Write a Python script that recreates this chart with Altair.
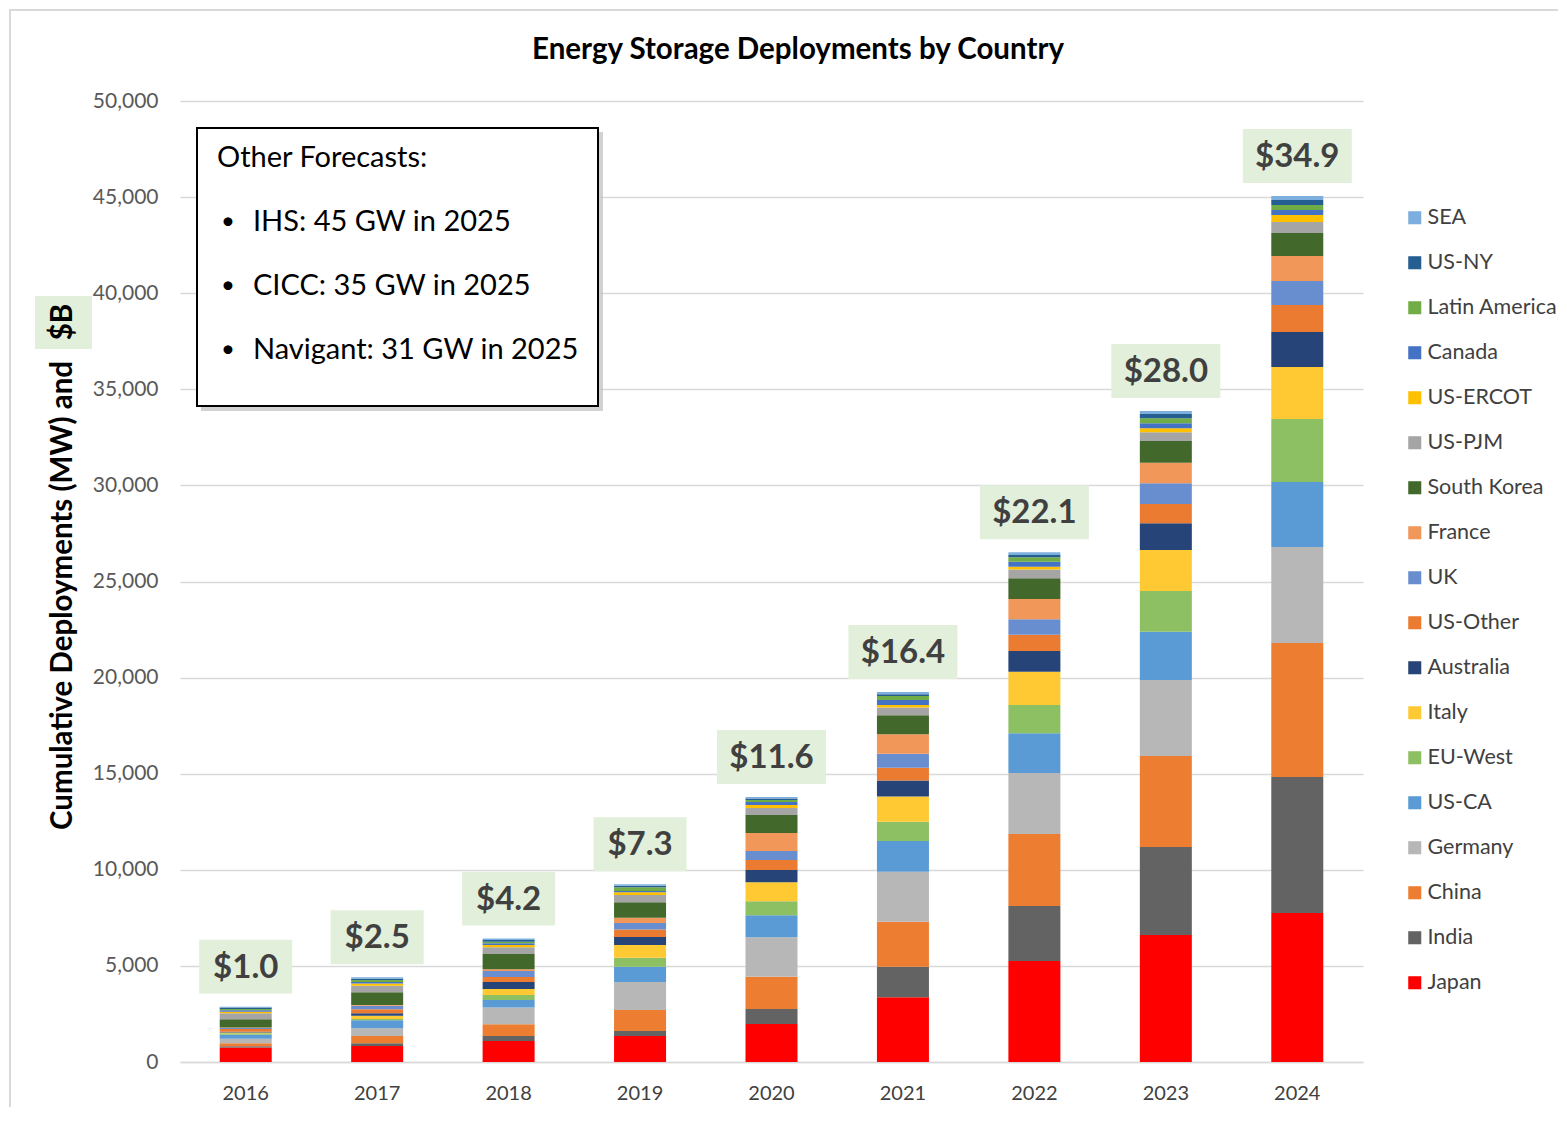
import altair as alt
import pandas as pd

years = ["2016", "2017", "2018", "2019", "2020", "2021", "2022", "2023", "2024"]

# stack order, bottom to top
series = ["Japan", "India", "China", "Germany", "US-CA", "EU-West", "Italy", "Australia",
          "US-Other", "UK", "France", "South Korea", "US-PJM", "US-ERCOT", "Canada",
          "Latin America", "US-NY", "SEA"]

japan = [760, 830, 1090, 1350, 1980, 3370, 5260, 6610, 7750]
india = [60, 140, 260, 260, 780, 1590, 2860, 4580, 7080]
china = [150, 380, 610, 1100, 1680, 2340, 3740, 4730, 6970]
germany = [240, 400, 870, 1450, 2050, 2600, 3180, 3960, 5000]
us_ca = [210, 420, 400, 800, 1140, 1600, 2060, 2510, 3380]
eu_west = [70, 70, 260, 470, 730, 1000, 1470, 2120, 3270]
italy = [50, 170, 310, 660, 990, 1320, 1740, 2130, 2710]
australia = [30, 120, 360, 410, 640, 820, 1070, 1390, 1820]
us_other = [150, 210, 260, 400, 520, 670, 850, 1000, 1410]
uk = [50, 190, 310, 330, 470, 730, 800, 1080, 1240]
france = [30, 30, 90, 280, 930, 1010, 1060, 1070, 1310]
south_korea = [420, 670, 800, 800, 940, 990, 1080, 1130, 1190]
us_pjm = [310, 340, 350, 380, 370, 410, 460, 450, 570]
us_ercot = [90, 120, 120, 140, 150, 120, 140, 210, 370]
canada = [70, 70, 90, 70, 160, 260, 260, 260, 260]
latin_america = [70, 110, 80, 190, 100, 210, 230, 260, 260]
us_ny = [70, 60, 90, 80, 80, 90, 120, 220, 260]
sea = [50, 80, 70, 80, 80, 120, 140, 160, 210]

values = [japan, india, china, germany, us_ca, eu_west, italy, australia, us_other, uk,
          france, south_korea, us_pjm, us_ercot, canada, latin_america, us_ny, sea]

colors = ["#FF0000", "#636363", "#ED7D31", "#B7B7B7", "#5B9BD5", "#8DBF63", "#FFC934",
          "#264478", "#EB7B30", "#698ED0", "#F1975A", "#43682B", "#A5A5A5", "#FFC000",
          "#4472C4", "#70AD47", "#255E91", "#7CAFDD"]

dollar_labels = ["$1.0", "$2.5", "$4.2", "$7.3", "$11.6", "$16.4", "$22.1", "$28.0", "$34.9"]

title_text = "Energy Storage Deployments by Country"
y_title = "Cumulative Deployments (MW) and"
y_title_tail = "$B"
forecast_head = "Other Forecasts:"
forecast_lines = ["IHS: 45 GW in 2025", "CICC: 35 GW in 2025", "Navigant: 31 GW in 2025"]

FONT = "Lato"

rows = []
for i, (s, vals) in enumerate(zip(series, values)):
    for y, v in zip(years, vals):
        rows.append({"year": y, "series": s, "order": i, "value": v})
df = pd.DataFrame(rows)

totals = [sum(v[j] for v in values) for j in range(len(years))]
lab_df = pd.DataFrame({"year": years, "total": totals, "label": dollar_labels})

legend_order = series[::-1]
legend_colors = colors[::-1]

bars = alt.Chart(df).mark_bar(size=52).encode(
    x=alt.X("year:N", sort=years, title=None,
            axis=alt.Axis(labelAngle=0, labelFont=FONT, labelFontSize=20, labelColor="#404040",
                          labelPadding=21, ticks=False, domainColor="#D9D9D9", domainWidth=1.5)),
    y=alt.Y("value:Q", stack="zero", title=None,
            scale=alt.Scale(domain=[0, 50000], nice=False),
            axis=alt.Axis(values=list(range(0, 50001, 5000)), format=",d", grid=True,
                          gridColor="#D9D9D9", gridWidth=1.5, domain=False, ticks=False,
                          labelFont=FONT, labelFontSize=21, labelColor="#595959", labelPadding=22)),
    color=alt.Color("series:N",
                    scale=alt.Scale(domain=legend_order, range=legend_colors),
                    sort=legend_order,
                    legend=alt.Legend(title=None, orient="none", legendX=1224, legendY=106,
                                      symbolType="square", symbolSize=170, symbolStrokeWidth=0,
                                      labelFont=FONT, labelFontSize=21.5, labelColor="#404040",
                                      rowPadding=22, labelOffset=2, labelLimit=300)),
    order=alt.Order("order:Q", sort="ascending"),
)

wide_box = "M-1,-0.495L1,-0.495L1,0.495L-1,0.495Z"
narrow_box = "M-1,-0.58L1,-0.58L1,0.58L-1,0.58Z"
long_test = "length(datum.label) > 4"
label_boxes = alt.Chart(lab_df).mark_point(filled=True, opacity=1,
                                           color="#E2EFDA", yOffset=-40).encode(
    x=alt.X("year:N", sort=years),
    y=alt.Y("total:Q"),
    size=alt.condition(long_test, alt.value(109 * 109), alt.value(93 * 93)),
    shape=alt.condition(long_test, alt.value(wide_box), alt.value(narrow_box)),
)
label_text = alt.Chart(lab_df).mark_text(font=FONT, fontSize=33, fontWeight="bold",
                                         color="#404040", yOffset=-39, baseline="middle").encode(
    x=alt.X("year:N", sort=years),
    y=alt.Y("total:Q"),
    text="label:N",
)

ann = pd.DataFrame({"k": [0]})

title = alt.Chart(ann).mark_text(text=title_text, font=FONT, fontSize=29.5, fontWeight="bold",
                                 color="#000000", baseline="middle").encode(
    x=alt.value(618), y=alt.value(-51))

ytitle = alt.Chart(ann).mark_text(text=y_title, font=FONT, fontSize=29.5, fontWeight="bold",
                                  color="#000000", angle=270, align="left",
                                  baseline="middle").encode(
    x=alt.value(-117), y=alt.value(729))
ybox = alt.Chart(ann).mark_rect(color="#E2EFDA").encode(
    x=alt.value(-145), x2=alt.value(-88), y=alt.value(195), y2=alt.value(248))
ytail = alt.Chart(ann).mark_text(text=y_title_tail, font=FONT, fontSize=29.5, fontWeight="bold",
                                 color="#000000", angle=270, align="center",
                                 baseline="middle").encode(
    x=alt.value(-117), y=alt.value(221))

frame = alt.Chart(ann).mark_rect(fill=None, stroke="#D9D9D9", strokeWidth=2).encode(
    x=alt.value(-170), x2=alt.value(1500), y=alt.value(-91), y2=alt.value(1100))

shadow = alt.Chart(ann).mark_rect(color="#BFBFBF", opacity=0.7).encode(
    x=alt.value(21), x2=alt.value(423), y=alt.value(31), y2=alt.value(310))
fbox = alt.Chart(ann).mark_rect(fill="white", stroke="#000000", strokeWidth=2).encode(
    x=alt.value(17), x2=alt.value(418), y=alt.value(27), y2=alt.value(305))
fhead = alt.Chart(ann).mark_text(text=forecast_head, font=FONT, fontSize=29, color="#000000",
                                 align="left", baseline="middle").encode(
    x=alt.value(37), y=alt.value(57))

layers = [frame, bars, label_boxes, label_text, title, ybox, ytitle, ytail, shadow, fbox, fhead]
for i, line in enumerate(forecast_lines):
    yy = 121 + 64 * i
    layers.append(alt.Chart(ann).mark_text(text="\u2022", font=FONT, fontSize=24, color="#000000",
                                           align="left", baseline="middle").encode(
        x=alt.value(41), y=alt.value(yy)))
    layers.append(alt.Chart(ann).mark_text(text=line, font=FONT, fontSize=29, color="#000000",
                                           align="left", baseline="middle").encode(
        x=alt.value(73), y=alt.value(yy)))

chart = alt.layer(*layers).properties(
    width=1183, height=961,
    autosize=alt.AutoSizeParams(type="none"),
    padding={"left": 172, "top": 93, "right": 195, "bottom": 45},
    background="white",
).configure_view(stroke=None)

chart.save("out.html", embed_options={"renderer": "svg", "actions": False})
